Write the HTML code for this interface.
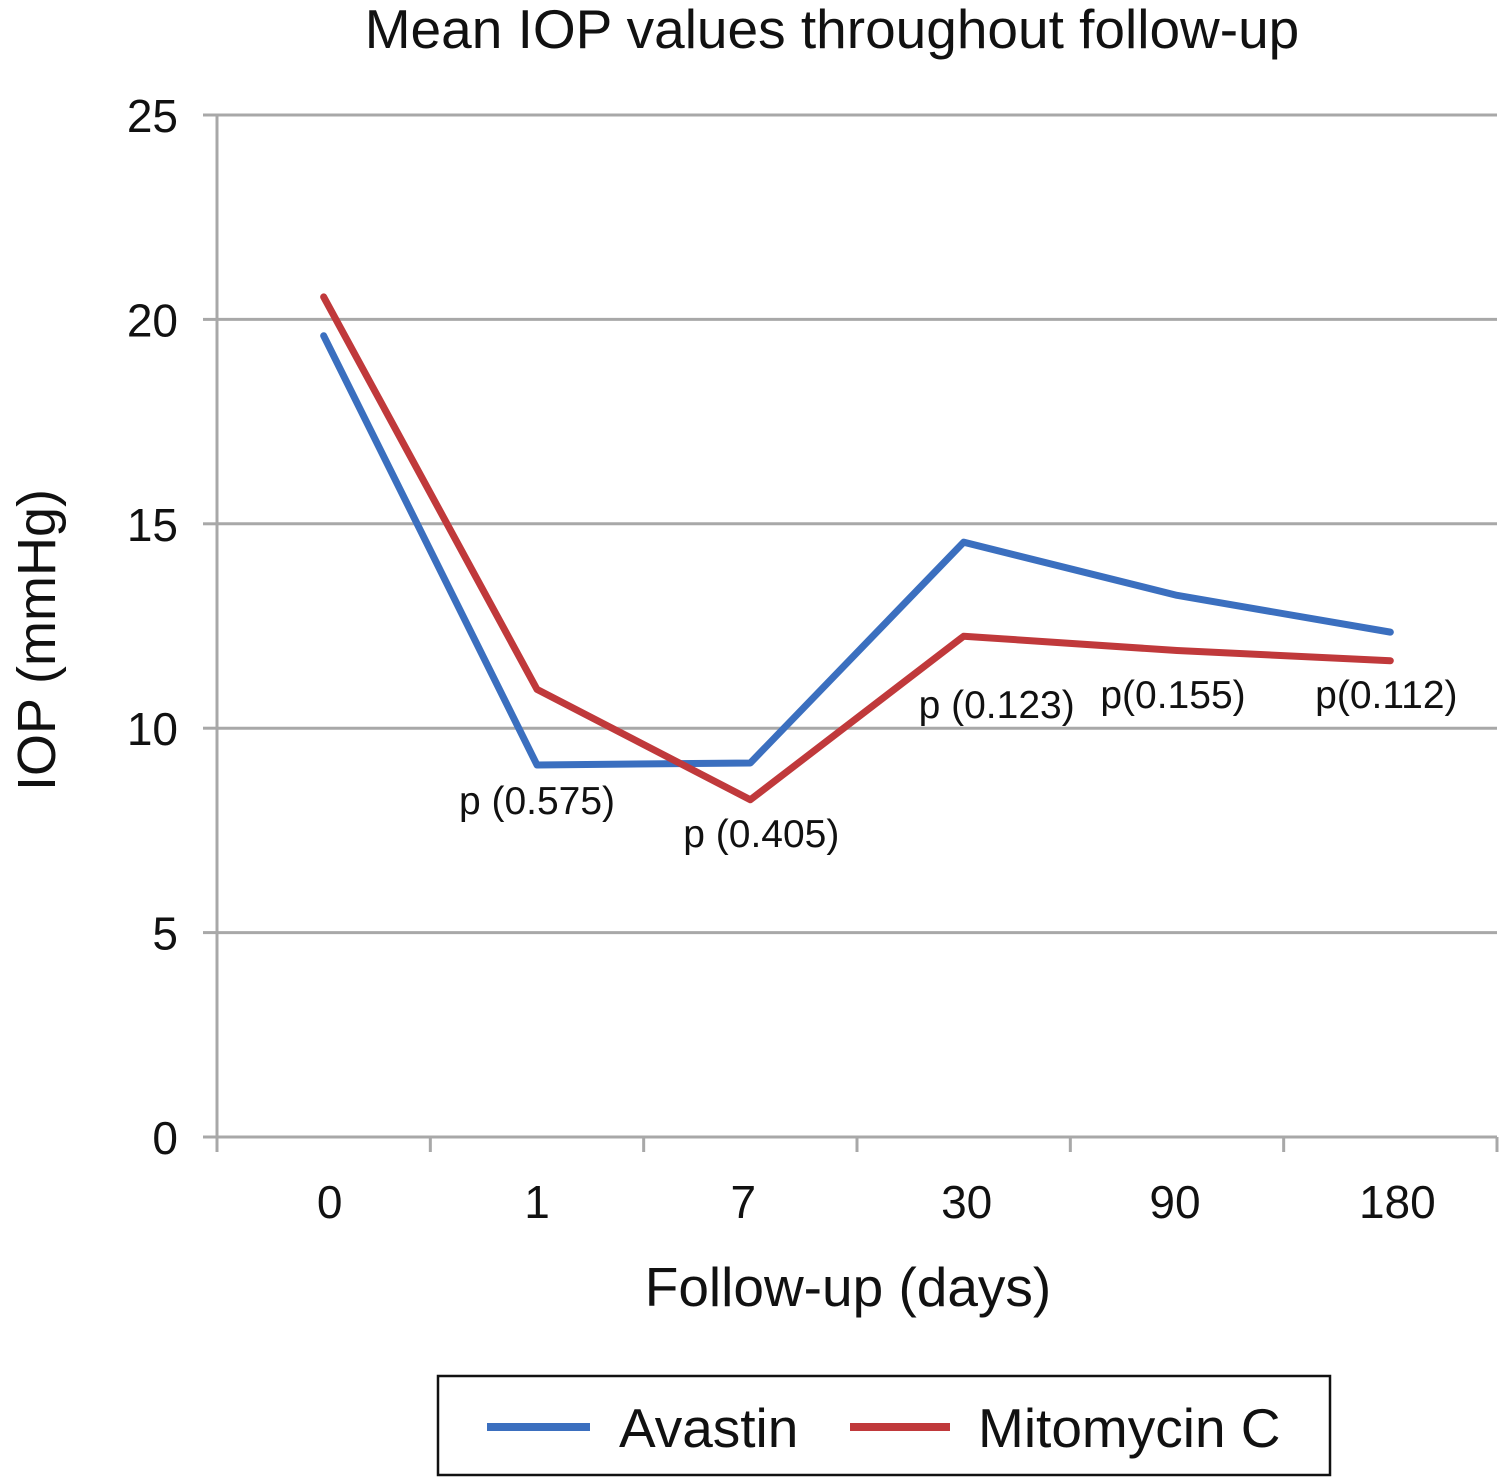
<!DOCTYPE html>
<html><head><meta charset="utf-8"><style>
html,body{margin:0;padding:0;background:#fff;}
svg{display:block;font-family:"Liberation Sans",Arial,sans-serif;}
</style></head><body>
<svg id="chart" width="1503" height="1477" viewBox="0 0 1503 1477">
<text x="832" y="48" font-size="55" text-anchor="middle" fill="#111">Mean IOP values throughout follow-up</text>
<g id="grid"></g>
<g id="axes"></g>
<g id="series"></g>
<g id="annots"></g>
<text transform="translate(55,640) rotate(-90)" font-size="54" text-anchor="middle" fill="#111">IOP (mmHg)</text>
<text x="848" y="1306" font-size="55" text-anchor="middle" fill="#111">Follow-up (days)</text>
<g>
<rect x="438" y="1376" width="892" height="99" fill="#fff" stroke="#111" stroke-width="2.5"/>
<line x1="487" y1="1427" x2="590" y2="1427" stroke="#3b6fbf" stroke-width="8"/>
<text x="619" y="1447" font-size="55" fill="#111">Avastin</text>
<line x1="850" y1="1427" x2="950" y2="1427" stroke="#c0393b" stroke-width="8"/>
<text x="978" y="1447" font-size="55" fill="#111">Mitomycin C</text>
</g>
</svg>
<script>
const categories=["0","1","7","30","90","180"];
const avastin=[19.6,9.1,9.15,14.55,13.25,12.35];
const mitomycin=[20.55,10.95,8.25,12.25,11.9,11.65];
const yTicks=[0,5,10,15,20,25];
const pLabels=["","p (0.575)","p (0.405)","p (0.123)","p(0.155)","p(0.112)"];
const pValuePos=[0,7.9,7.1,10.25,10.5,10.5];
const pOffsets=[0,0,11,33,-4,-4];

const NS="http://www.w3.org/2000/svg";
const X0=217,X1=1497,Y0=1137,Y25=115;
const step=(X1-X0)/categories.length;
const xs=i=>X0+step*(i+0.5);
const ys=v=>Y0-(Y0-Y25)*v/25;
function mk(tag,attrs,parent){const e=document.createElementNS(NS,tag);for(const k in attrs)e.setAttribute(k,attrs[k]);parent.appendChild(e);return e;}
const grid=document.getElementById('grid'),axes=document.getElementById('axes'),series=document.getElementById('series'),ann=document.getElementById('annots');
yTicks.forEach(t=>{
  const y=ys(t);
  if(t>0){const g=mk('line',{x1:X0,x2:X1,y1:y,y2:y,stroke:'#a8a8a8','stroke-width':3},grid);
  
  }
  const tk=mk('line',{x1:203,x2:X0,y1:y,y2:y,stroke:'#a8a8a8','stroke-width':3},axes);
  
  
  const tl=mk('text',{x:178,y:y+17,'font-size':46,'text-anchor':'end',fill:'#111'},axes);tl.textContent=t;
  
  
});
const ya=mk('line',{x1:X0,x2:X0,y1:Y25,y2:Y0+14,stroke:'#a8a8a8','stroke-width':3},axes);


const xa=mk('line',{x1:X0-14,x2:X1,y1:Y0,y2:Y0,stroke:'#a8a8a8','stroke-width':3},axes);


for(let i=0;i<=categories.length;i++){
  const x=X0+step*i;
  const t=mk('line',{x1:x,x2:x,y1:Y0,y2:Y0+15,stroke:'#a8a8a8','stroke-width':3},axes);
  
  
}
categories.forEach((c,i)=>{
  const t=mk('text',{x:xs(i)+[6,0,-7,3,-2,7][i],y:1218,'font-size':46,'text-anchor':'middle',fill:'#111'},axes);t.textContent=c;
  
  
});
function line(vals,color,name){
  const d=vals.map((v,i)=>(i?'L':'M')+xs(i)+','+ys(v)).join(' ');
  const p=mk('path',{d:d,fill:'none',stroke:color,'stroke-width':7,'stroke-linejoin':'round','stroke-linecap':'round'},series);
  
  
}
line(avastin,'#3b6fbf','series-avastin');
line(mitomycin,'#c0393b','series-mitomycin');
pLabels.forEach((l,i)=>{
  if(!l)return;
  const t=mk('text',{x:xs(i)+pOffsets[i],y:ys(pValuePos[i]),'font-size':39,'text-anchor':'middle',fill:'#111'},ann);t.textContent=l;
  
  
});
</script>
</body></html>
